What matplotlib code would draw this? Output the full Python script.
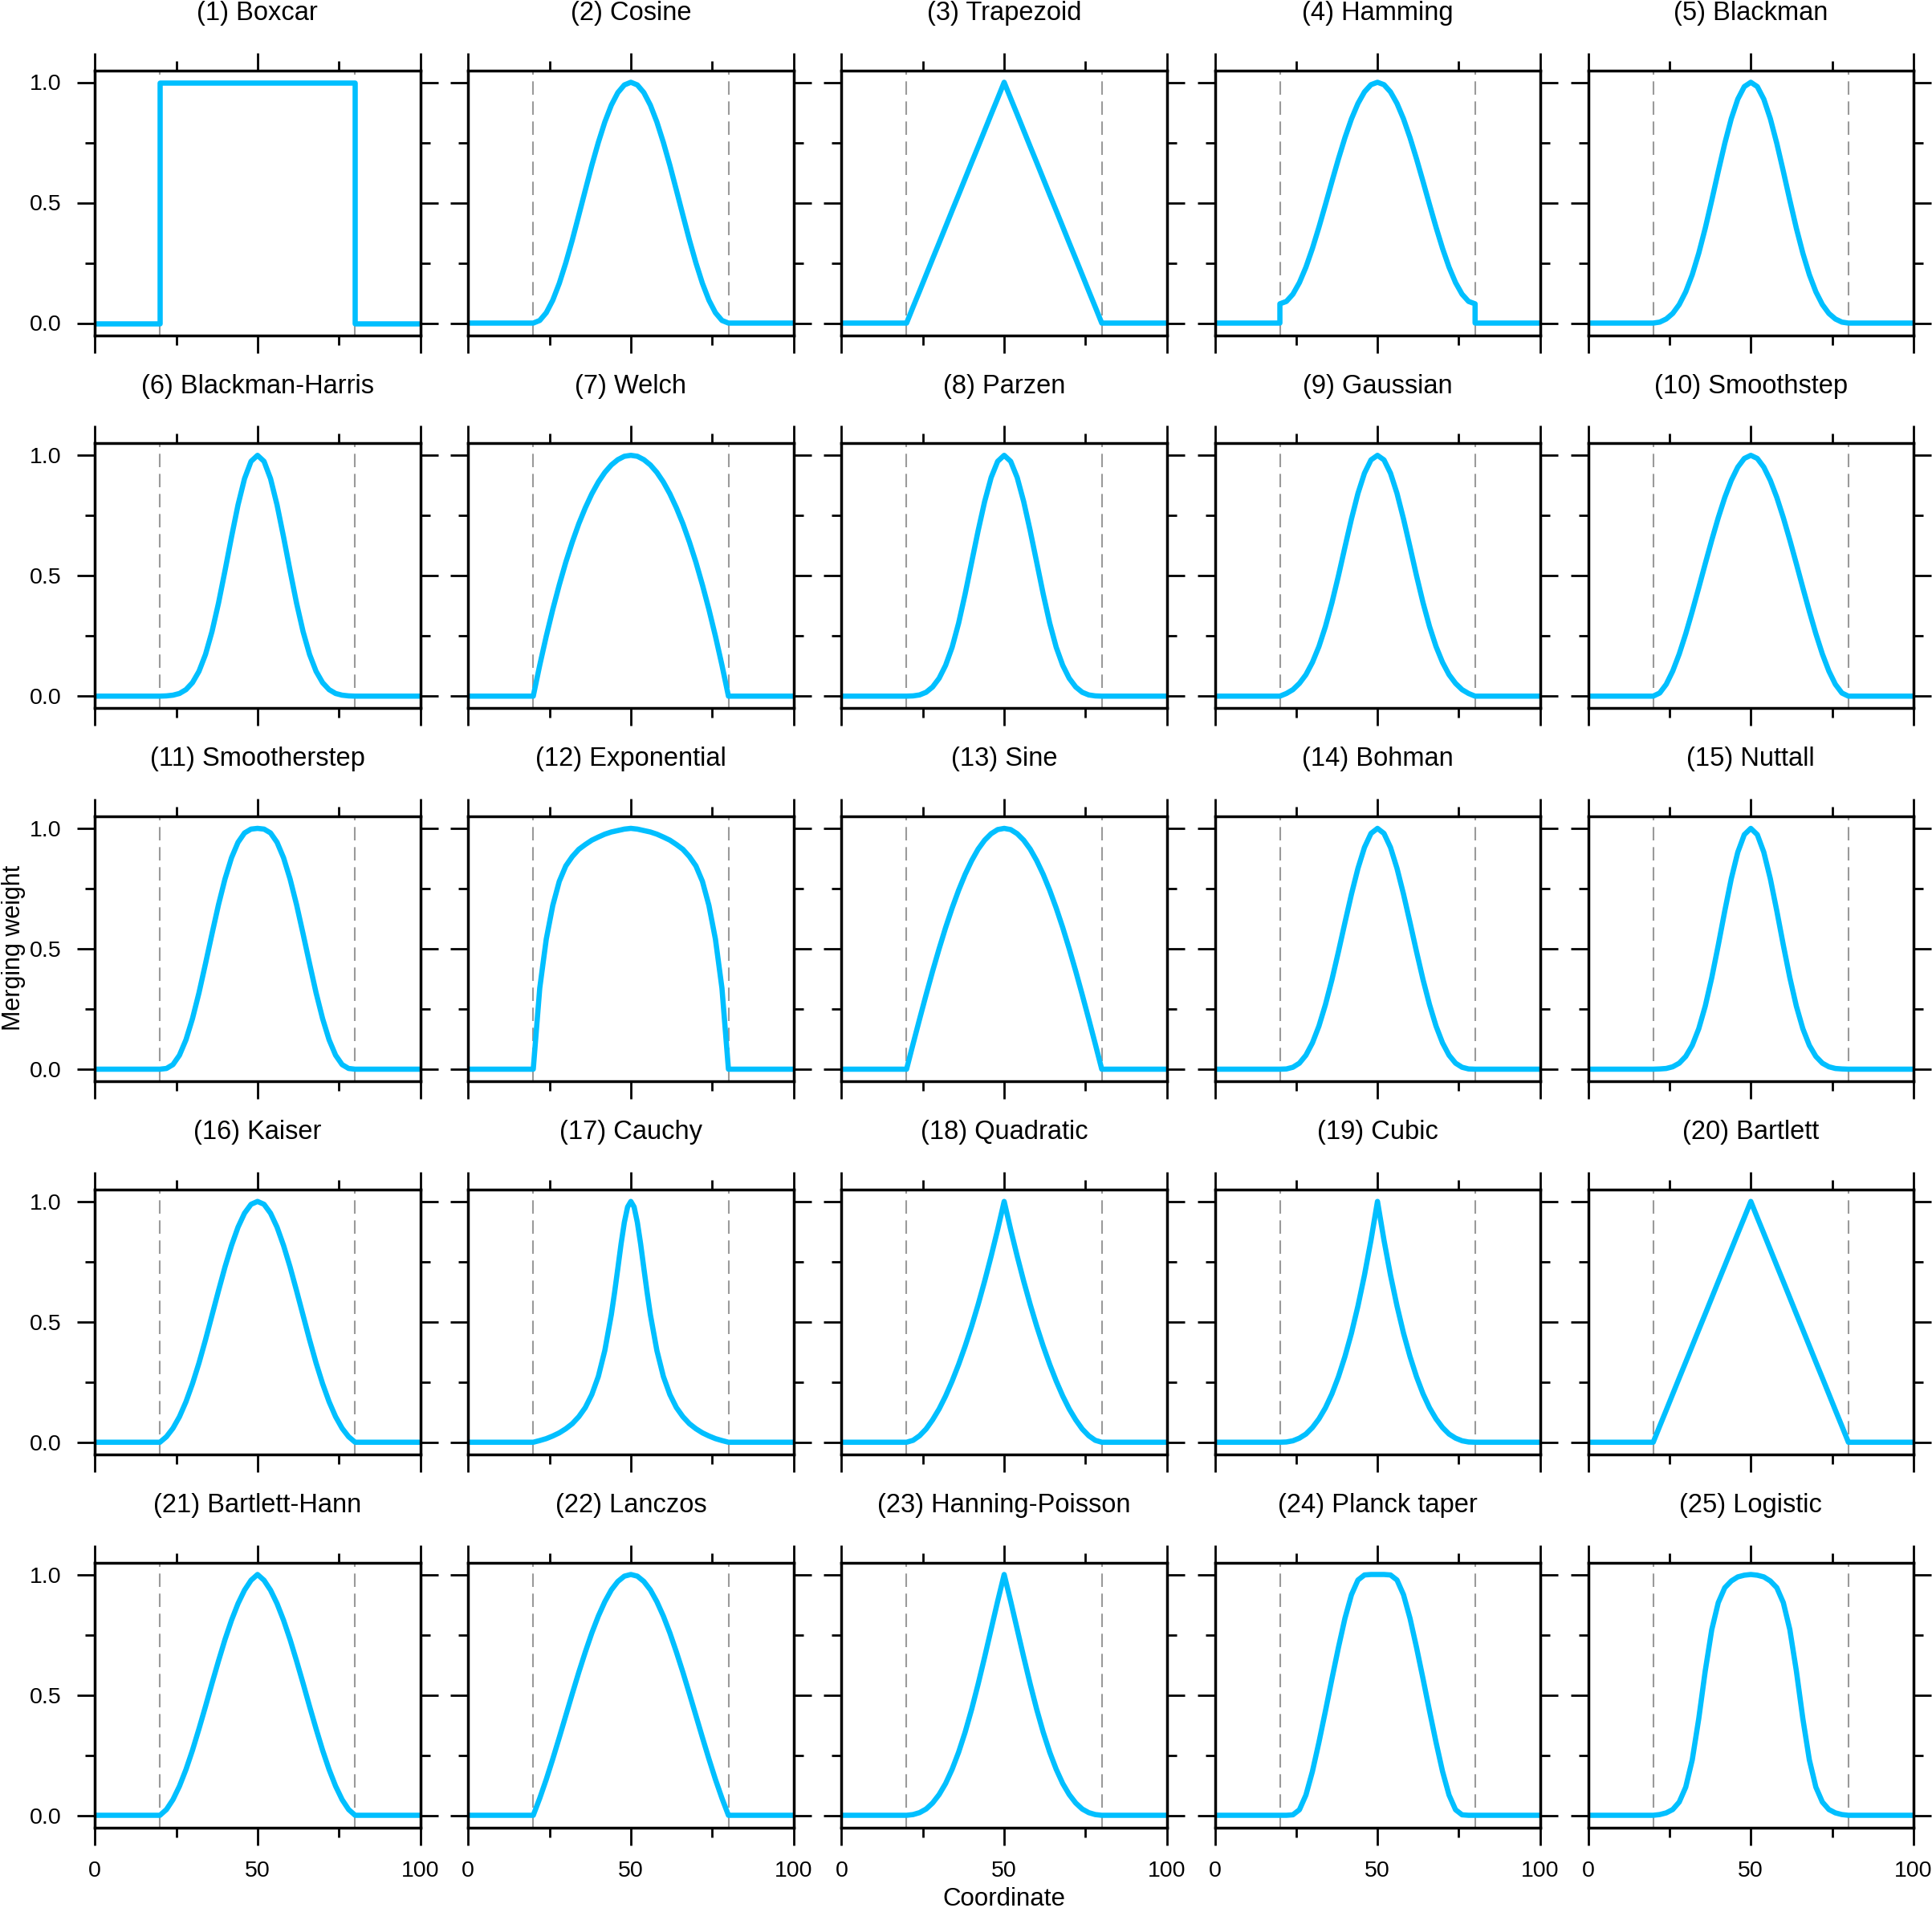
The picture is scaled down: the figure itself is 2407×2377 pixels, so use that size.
import numpy as np
import matplotlib
matplotlib.use("Agg")
import matplotlib.pyplot as plt

plt.rcParams["font.family"] = ["Liberation Sans", "DejaVu Sans"]
plt.rcParams["lines.scale_dashes"] = False

# Every window is symmetric and zero outside [20, 80].
OFFSETS = [0, 2, 4, 6, 8, 10, 12, 14, 16, 18, 20, 22, 24, 26, 28, 30]
CENTRE = 50
EDGES = [20, 80]
X_RANGE = [0, 100]

NAMES = ["Boxcar", "Cosine", "Trapezoid", "Hamming", "Blackman",
         "Blackman-Harris", "Welch", "Parzen", "Gaussian", "Smoothstep",
         "Smootherstep", "Exponential", "Sine", "Bohman", "Nuttall",
         "Kaiser", "Cauchy", "Quadratic", "Cubic", "Bartlett",
         "Bartlett-Hann", "Lanczos", "Hanning-Poisson", "Planck taper", "Logistic"]

boxcar = [1.0, 1.0, 1.0, 1.0, 1.0, 1.0, 1.0, 1.0, 1.0, 1.0, 1.0, 1.0, 1.0, 1.0, 1.0, 1.0]
cosine = [1.0, 0.989, 0.957, 0.905, 0.835, 0.75, 0.655, 0.552, 0.448, 0.345, 0.25, 0.165, 0.095, 0.043, 0.011, 0.0]
trapezoid = [1.0, 0.933, 0.867, 0.8, 0.733, 0.667, 0.6, 0.533, 0.467, 0.4, 0.333, 0.267, 0.2, 0.133, 0.067, 0.0]
hamming = [1.0, 0.99, 0.96, 0.912, 0.848, 0.77, 0.682, 0.588, 0.492, 0.398, 0.31, 0.232, 0.168, 0.12, 0.09, 0.08]
blackman = [1.0, 0.982, 0.93, 0.849, 0.746, 0.63, 0.51, 0.394, 0.29, 0.201, 0.13, 0.077, 0.04, 0.017, 0.004, 0.0]
blackman_harris = [1.0, 0.975, 0.903, 0.794, 0.661, 0.521, 0.386, 0.268, 0.173, 0.103, 0.056, 0.027, 0.011, 0.004, 0.001, 0.0]
welch = [1.0, 0.996, 0.982, 0.96, 0.929, 0.889, 0.84, 0.782, 0.716, 0.64, 0.556, 0.462, 0.36, 0.249, 0.129, 0.0]
parzen = [1.0, 0.975, 0.908, 0.808, 0.687, 0.556, 0.424, 0.303, 0.203, 0.128, 0.074, 0.038, 0.016, 0.005, 0.001, 0.0]
gaussian = [1.0, 0.981, 0.926, 0.842, 0.736, 0.619, 0.5, 0.388, 0.289, 0.206, 0.14, 0.089, 0.053, 0.027, 0.011, 0.0]
smoothstep = [1.0, 0.987, 0.951, 0.896, 0.825, 0.741, 0.648, 0.55, 0.45, 0.352, 0.259, 0.175, 0.104, 0.049, 0.013, 0.0]
smootherstep = [1.0, 0.997, 0.981, 0.942, 0.878, 0.79, 0.683, 0.562, 0.438, 0.317, 0.21, 0.122, 0.058, 0.019, 0.003, 0.0]
exponential = [1.0, 0.997, 0.991, 0.985, 0.976, 0.964, 0.951, 0.933, 0.913, 0.883, 0.844, 0.78, 0.68, 0.54, 0.337, 0.0]
sine = [1.0, 0.995, 0.978, 0.951, 0.914, 0.866, 0.809, 0.743, 0.669, 0.588, 0.5, 0.407, 0.309, 0.208, 0.105, 0.0]
bohman = [1.0, 0.979, 0.921, 0.834, 0.727, 0.609, 0.488, 0.372, 0.268, 0.179, 0.109, 0.058, 0.025, 0.008, 0.001, 0.0]
nuttall = [1.0, 0.974, 0.901, 0.791, 0.657, 0.515, 0.38, 0.262, 0.168, 0.099, 0.053, 0.025, 0.01, 0.003, 0.001, 0.0]
kaiser = [1.0, 0.988, 0.951, 0.893, 0.817, 0.728, 0.629, 0.527, 0.425, 0.329, 0.243, 0.168, 0.106, 0.058, 0.023, 0.0]
quadratic = [1.0, 0.883, 0.773, 0.669, 0.572, 0.482, 0.399, 0.323, 0.254, 0.192, 0.138, 0.093, 0.055, 0.027, 0.008, 0.0]
cubic = [1.0, 0.839, 0.694, 0.566, 0.453, 0.356, 0.272, 0.201, 0.143, 0.097, 0.061, 0.034, 0.017, 0.006, 0.001, 0.0]
bartlett = [1.0, 0.933, 0.867, 0.8, 0.733, 0.667, 0.6, 0.533, 0.467, 0.4, 0.333, 0.267, 0.2, 0.133, 0.067, 0.0]
bartlett_hann = [1.0, 0.976, 0.935, 0.879, 0.81, 0.73, 0.641, 0.548, 0.452, 0.359, 0.27, 0.19, 0.121, 0.065, 0.024, 0.0]
lanczos = [1.0, 0.993, 0.971, 0.936, 0.887, 0.827, 0.757, 0.678, 0.594, 0.505, 0.414, 0.323, 0.234, 0.149, 0.071, 0.0]
hanning_poisson = [1.0, 0.889, 0.773, 0.657, 0.545, 0.44, 0.345, 0.262, 0.191, 0.132, 0.086, 0.051, 0.026, 0.011, 0.003, 0.0]
planck_taper = [1.0, 1.0, 0.998, 0.977, 0.916, 0.818, 0.697, 0.567, 0.433, 0.303, 0.182, 0.084, 0.023, 0.002, 0.0, 0.0]
logistic = [1.0, 0.997, 0.99, 0.973, 0.945, 0.883, 0.771, 0.6, 0.401, 0.23, 0.117, 0.055, 0.024, 0.01, 0.003, 0.0]

# the Cauchy peak is narrow, so it was read on a finer step near the centre
CAUCHY_OFFSETS = [0, 1, 2, 3, 4, 5, 6, 8, 10, 12, 14, 16, 18, 20, 22, 24, 26, 28, 30]
cauchy = [1.0, 0.977, 0.913, 0.824, 0.722, 0.622, 0.53, 0.381, 0.273, 0.198, 0.144,
          0.106, 0.077, 0.056, 0.039, 0.026, 0.015, 0.007, 0.0]

PROFILES = [boxcar, cosine, trapezoid, hamming, blackman,
            blackman_harris, welch, parzen, gaussian, smoothstep,
            smootherstep, exponential, sine, bohman, nuttall,
            kaiser, cauchy, quadratic, cubic, bartlett,
            bartlett_hann, lanczos, hanning_poisson, planck_taper, logistic]

X_TICKS, X_MINOR = [0, 50, 100], [25, 75]
Y_TICKS, Y_MINOR = [0.0, 0.5, 1.0], [0.25, 0.75]

LINE_COLOR = "#00BFFF"
EDGE_COLOR = "#9A9A9A"

W, H = 2407, 2377
AX_LEFT, AX_W, COL_STEP = 118.2, 405.3, 465.1
AX_TOP, AX_H, ROW_STEP = 87.5, 330.0, 464.75


def full_curve(half, offsets):
    off = np.asarray(offsets, dtype=float)
    half = np.asarray(half, dtype=float)
    x_in = np.concatenate([CENTRE - off[::-1], CENTRE + off[1:]])
    y_in = np.concatenate([half[::-1], half[1:]])
    x = np.concatenate([[X_RANGE[0], EDGES[0]], x_in, [EDGES[1], X_RANGE[1]]])
    y = np.concatenate([[0.0, 0.0], y_in, [0.0, 0.0]])
    return x, y


fig = plt.figure(figsize=(W / 100, H / 100), dpi=100)

for i, (name, half) in enumerate(zip(NAMES, PROFILES)):
    row, col = divmod(i, 5)
    left = (AX_LEFT + col * COL_STEP) / W
    bottom = 1 - (AX_TOP + row * ROW_STEP + AX_H) / H
    ax = fig.add_axes([left, bottom, AX_W / W, AX_H / H])

    for e in EDGES:
        ax.axvline(e, color=EDGE_COLOR, lw=1.5, dashes=(12, 6), zorder=1)
    offsets = CAUCHY_OFFSETS if half is cauchy else OFFSETS
    x, y = full_curve(half, offsets)
    ax.plot(x, y, color=LINE_COLOR, lw=4.7, solid_joinstyle="round", zorder=2)

    ax.set_xlim(*X_RANGE)
    ax.set_ylim(-0.05, 1.05)
    ax.set_xticks(X_TICKS)
    ax.set_xticks(X_MINOR, minor=True)
    ax.set_yticks(Y_TICKS)
    ax.set_yticks(Y_MINOR, minor=True)
    ax.set_xticklabels([str(t) for t in X_TICKS])
    ax.set_yticklabels([f"{t:.1f}" for t in Y_TICKS])
    ax.tick_params(which="both", direction="out", top=True, right=True,
                   width=2.0, labelsize=20.5, colors="black",
                   labelbottom=(row == 4), labelleft=(col == 0))
    ax.tick_params(which="major", length=15.8, pad=14)
    ax.tick_params(which="minor", length=8.3)
    for sp in ax.spines.values():
        sp.set_linewidth(2.5)

    ax.text(0.5, 1 + 62.5 / AX_H, f"({i + 1}) {name}", transform=ax.transAxes,
            ha="center", va="baseline", fontsize=23.5)

fig.text(17 / W, 1 - 1181 / H, "Merging weight", rotation=90,
         ha="center", va="center", fontsize=22)
fig.text(1250.5 / W, 3 / H, "Coordinate", ha="center", va="baseline", fontsize=22.5)

fig.savefig("out.png", dpi=100)
